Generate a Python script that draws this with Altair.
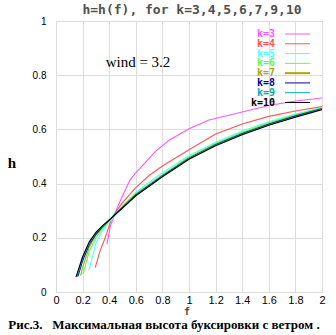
import altair as alt
import pandas as pd

# ---- data ----
labels = ["k=3", "k=4", "k=5", "k=6", "k=7", "k=8", "k=9", "k=10"]
colors = ["#ff55ff", "#ff5555", "#55ffff", "#55ff55", "#aaaa00", "#0000aa", "#00aaaa", "#000000"]

f_k3 = [0.383, 0.41, 0.46, 0.5, 0.556, 0.6, 0.75, 0.85, 1.0, 1.15, 1.4, 1.6, 1.8, 2.0]
h_k3 = [0.177, 0.245, 0.31, 0.355, 0.413, 0.44, 0.52, 0.56, 0.602, 0.635, 0.664, 0.688, 0.705, 0.716]

f_k4 = [0.295, 0.33, 0.37, 0.42, 0.5, 0.6, 0.7, 0.8, 1.0, 1.2, 1.4, 1.6, 1.8, 2.0]
h_k4 = [0.09, 0.15, 0.2, 0.275, 0.33, 0.385, 0.43, 0.465, 0.525, 0.583, 0.62, 0.648, 0.668, 0.684]

f_k5 = [0.248, 0.3, 0.35, 0.41, 0.5, 0.6, 0.8, 1.0, 1.2, 1.4, 1.6, 1.8, 2.0]
h_k5 = [0.08, 0.18, 0.228, 0.265, 0.318, 0.368, 0.44, 0.503, 0.553, 0.594, 0.628, 0.657, 0.681]

f_k6 = [0.203, 0.25, 0.3, 0.35, 0.41, 0.5, 0.6, 0.8, 1.0, 1.2, 1.4, 1.6, 1.8, 2.0]
h_k6 = [0.066, 0.15, 0.2, 0.235, 0.268, 0.315, 0.363, 0.433, 0.498, 0.548, 0.589, 0.624, 0.654, 0.679]

f_k7 = [0.185, 0.2, 0.25, 0.3, 0.35, 0.41, 0.5, 0.6, 0.8, 1.0, 1.2, 1.4, 1.6, 1.8, 2.0]
h_k7 = [0.06, 0.09, 0.165, 0.21, 0.24, 0.27, 0.313, 0.36, 0.43, 0.495, 0.545, 0.586, 0.621, 0.651, 0.677]

f_k8 = [0.165, 0.2, 0.25, 0.3, 0.35, 0.41, 0.5, 0.6, 0.8, 1.0, 1.2, 1.4, 1.6, 1.8, 2.0]
h_k8 = [0.058, 0.115, 0.175, 0.213, 0.241, 0.27, 0.312, 0.358, 0.428, 0.493, 0.543, 0.584, 0.619, 0.649, 0.676]

f_k9 = [0.158, 0.2, 0.25, 0.3, 0.35, 0.41, 0.5, 0.6, 0.8, 1.0, 1.2, 1.4, 1.6, 1.8, 2.0]
h_k9 = [0.056, 0.125, 0.18, 0.217, 0.243, 0.27, 0.311, 0.357, 0.427, 0.492, 0.542, 0.582, 0.617, 0.647, 0.675]

f_k10 = [0.15, 0.2, 0.25, 0.3, 0.35, 0.41, 0.5, 0.6, 0.8, 1.0, 1.2, 1.4, 1.6, 1.8, 2.0]
h_k10 = [0.055, 0.13, 0.185, 0.22, 0.245, 0.27, 0.31, 0.355, 0.425, 0.49, 0.54, 0.58, 0.615, 0.645, 0.673]

x_ticks = [0, 0.2, 0.4, 0.6, 0.8, 1.0, 1.2, 1.4, 1.6, 1.8, 2.0]
y_ticks = [0, 0.2, 0.4, 0.6, 0.8, 1.0]

title_text = "h=h(f), for k=3,4,5,6,7,9,10"
wind_text = "wind = 3.2"
x_title = "f"
y_title = "h"
caption_text = "Рис.3.\u00a0\u00a0 Максимальная высота буксировки с ветром ."

series = [(f_k3, h_k3), (f_k4, h_k4), (f_k5, h_k5), (f_k6, h_k6),
          (f_k7, h_k7), (f_k8, h_k8), (f_k9, h_k9), (f_k10, h_k10)]

rows = []
for i, (lab, (fs, hs)) in enumerate(zip(labels, series)):
    for fv, hv in zip(fs, hs):
        rows.append({"k": lab, "order": i, "f": fv, "h": hv})
df = pd.DataFrame(rows)
leg = pd.DataFrame({"k": labels, "row": list(range(len(labels)))})

W, H = 266, 271
MONO = "DejaVu Sans Mono"
SERIF = "Liberation Serif"
GRAY = "#505050"

color = alt.Color("k:N", scale=alt.Scale(domain=labels, range=colors), legend=None)

lines = alt.Chart(df).mark_line(strokeWidth=1.1, clip=True).encode(
    x=alt.X("f:Q", scale=alt.Scale(domain=[0, 2], nice=False),
            axis=alt.Axis(values=x_ticks, format="~g", title=None, grid=True,
                          ticks=False, domain=False, labelOverlap=False,
                          labelFlush=False, labelBound=False, labelPadding=2,
                          labelFontSize=11)),
    y=alt.Y("h:Q", scale=alt.Scale(domain=[0, 1], nice=False),
            axis=alt.Axis(values=y_ticks, format="~g", title=None, grid=True,
                          ticks=False, domain=False, labelOverlap=False,
                          labelFlush=False, labelBound=False, labelPadding=10)),
    color=color,
    detail="k:N",
    order=alt.Order("f:Q"),
)

row_y = alt.Y("row:Q", scale=alt.Scale(domain=[0, 7], range=[13, 81.5], nice=False, zero=False), axis=None)

leg_text = alt.Chart(leg).mark_text(align="right", baseline="middle", font=MONO,
                                    fontWeight="bold", fontSize=10).encode(
    x=alt.value(219), y=row_y, text="k:N", color=color)
leg_rule = alt.Chart(leg).mark_rule().encode(
    x=alt.value(229), x2=alt.value(254), y=row_y, color=color,
    strokeWidth=alt.condition(alt.datum.k == "k=7", alt.value(2), alt.value(1)))

def label(text, x, y, **kw):
    return alt.Chart(pd.DataFrame({"t": [text]})).mark_text(**kw).encode(
        x=alt.value(x), y=alt.value(y), text="t:N")

title = label(title_text, 136, -11, font=MONO, fontWeight="bold", fontSize=13, color=GRAY)
wind = label(wind_text, 82, 41, font=SERIF, fontSize=15, color="black")
hlab = label(y_title, -44, 142, font=SERIF, fontWeight="bold", fontSize=15, color="black")
flab = label(x_title, 131, 291, font=MONO, fontWeight="bold", fontSize=10, color=GRAY)
cap = label(caption_text, 108, 304, font=SERIF, fontWeight="bold", fontSize=13, color="black")

main = alt.layer(lines, title, wind, hlab, flab, cap)
legend = alt.layer(leg_text, leg_rule)

chart = alt.layer(main, legend).resolve_scale(y="independent").properties(
    width=W, height=H,
    padding={"left": 56, "top": 21, "right": 14, "bottom": 43},
    autosize="none",
).configure_view(stroke=GRAY, strokeWidth=1).configure_axis(
    labelFont=MONO, labelFontWeight="bold", labelFontSize=12, labelColor=GRAY,
    gridColor="#a8a8a8", gridWidth=1, gridOpacity=1,
).configure(background="white")

chart.save("out.html", embed_options={"renderer": "svg", "actions": False})
